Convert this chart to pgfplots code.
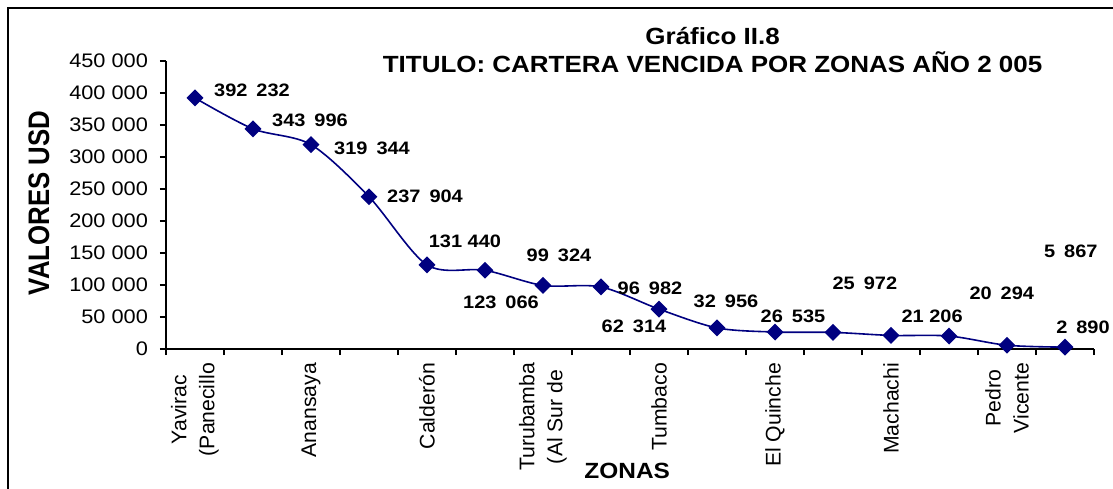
\documentclass[border=0pt]{standalone}
\usepackage{fontspec}
\setmainfont{Liberation Sans}[FakeStretch=1.11]
\newfontfamily\rotfont{Liberation Sans}
\usepackage{graphicx}
\usepackage{pgfplots}
\pgfplotsset{compat=1.18}
\definecolor{navy}{RGB}{0,0,128}
\newcommand\wsp{\hspace{0.5em}}
\begin{document}
\begin{tikzpicture}
\path[use as bounding box] (0,0) rectangle (556.5pt,244pt);
\draw[line width=1.25pt] (4pt,-20pt) -- (4pt,240pt) -- (600pt,240pt);
\begin{axis}[
  at={(83pt,69.5pt)}, anchor=south west,
  scale only axis, width=464pt, height=144pt,
  xmin=-0.5, xmax=15.5, ymin=0, ymax=450000,
  axis x line*=bottom, axis y line*=left,
  axis line style={-, line width=1pt, black},
  tick align=outside,
  major tick length=3pt,
  tick style={line width=1pt, black},
  clip=false,
  scaled y ticks=false,
  ytick={0,50000,...,450000},
  yticklabel style={xshift=-2.5pt, font=\fontsize{9.8}{11}\selectfont, /pgf/number format/.cd, fixed, 1000 sep={\ }, assume math mode=true},
  xtick={-0.5,0.5,...,15.5},
  xticklabels={},
  extra x ticks={0,2,...,14},
  extra x tick labels={{Yavirac\\(Panecillo},Anansaya,Calderón,{Turubamba\\(Al Sur de},Tumbaco,El Quinche,Machachi,{Pedro\\Vicente}},
  extra x tick style={major tick length=0pt, xticklabel style={rotate=90, anchor=east, xshift=-3.5pt, align=center, font=\rotfont\fontsize{10.6}{14}\selectfont}},
  xlabel={ZONAS},
  xlabel style={at={(axis description cs:0.497,-0.424)}, anchor=center, font=\bfseries\fontsize{11}{12}\selectfont},
  ylabel={\scalebox{1}[1.15]{VALORES USD}},
  ylabel style={at={(axis description cs:-0.137,0.507)}, anchor=center, rotate=0, font=\rotfont\bfseries\fontsize{12.9}{14}\selectfont},
  title={Gráfico II.8\\TITULO: CARTERA VENCIDA POR ZONAS AÑO 2 005},
  title style={at={(axis description cs:0.589,0.997)}, anchor=center, align=center, font=\bfseries\fontsize{11.7}{13.8}\selectfont},
]
\addplot[color=navy, line width=0.8pt, smooth, mark=square*, mark size=2.6pt, mark options={rotate=45, solid, fill=navy}]
coordinates {(0,392232)(1,343996)(2,319344)(3,237904)(4,131440)(5,123066)(6,99324)(7,96982)(8,62314)(9,32956)(10,26535)(11,25972)(12,21206)(13,20294)(14,5867)(15,2890)};
\begin{scope}[every node/.style={font=\bfseries\fontsize{9}{10}\selectfont, inner sep=0pt}]
\node at (axis cs:0.983,404688) {392\wsp232};
\node at (axis cs:1.983,357813) {343\wsp996};
\node at (axis cs:3.052,314063) {319\wsp344};
\node at (axis cs:3.966,239063) {237\wsp904};
\node at (axis cs:4.655,168750) {131 440};
\node at (axis cs:5.276,73438) {123\wsp066};
\node at (axis cs:6.276,146875) {99\wsp324};
\node at (axis cs:7.845,95313) {96\wsp982};
\node at (axis cs:7.569,35938) {62\wsp314};
\node at (axis cs:9.155,75000) {32\wsp956};
\node at (axis cs:10.31,51563) {26\wsp535};
\node at (axis cs:11.55,103125) {25\wsp972};
\node at (axis cs:12.71,51563) {21 206};
\node at (axis cs:13.91,87500) {20\wsp294};
\node at (axis cs:15.10,153125) {5\wsp867};
\node at (axis cs:15.31,34375) {2\wsp890};
\end{scope}
\end{axis}
\end{tikzpicture}
\end{document}
